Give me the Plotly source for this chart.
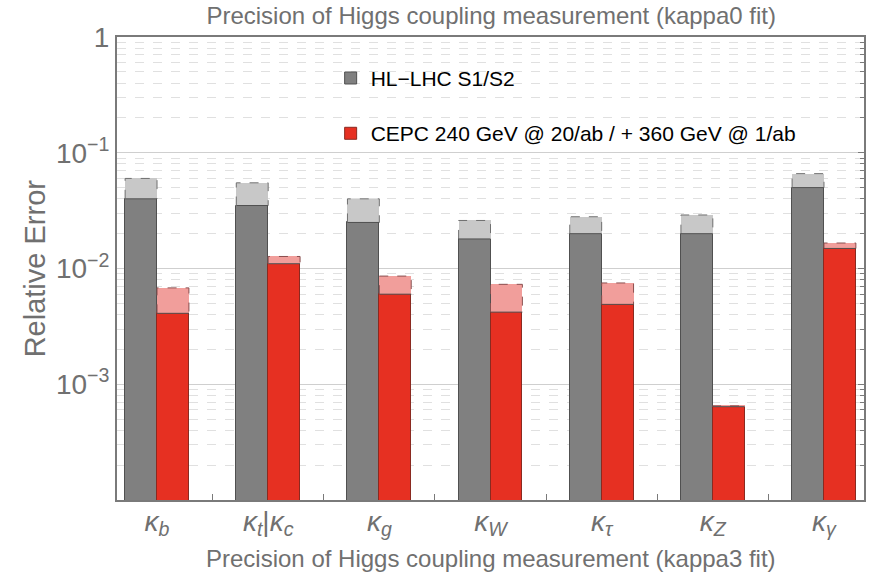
import plotly.graph_objects as go

categories = ["<i>κ<sub>b</sub></i>", "<i>κ<sub>t</sub></i>|<i>κ<sub>c</sub></i>", "<i>κ<sub>g</sub></i>",
              "<i>κ<sub>W</sub></i>", "<i>κ<sub>τ</sub></i>", "<i>κ<sub>Z</sub></i>", "<i>κ<sub>γ</sub></i>"]
hllhc_s2 = [0.040, 0.035, 0.025, 0.018, 0.020, 0.020, 0.050]
hllhc_s1 = [0.060, 0.055, 0.040, 0.026, 0.028, 0.029, 0.066]
cepc_360 = [0.0041, 0.011, 0.0060, 0.0042, 0.0049, 0.00064, 0.0149]
cepc_240 = [0.0068, 0.0127, 0.0086, 0.0073, 0.0075, 0.00065, 0.0166]
ytick_vals = [1, 0.1, 0.01, 0.001]
ytick_text = ["1", "10<sup>−1</sup>", "10<sup>−2</sup>", "10<sup>−3</sup>"]

W = 0.287
xs = list(range(len(categories)))
xg = [i - W / 2 for i in xs]
xr = [i + W / 2 for i in xs]

GRAY = "#808080"
GRAY_L = "#c8c8c8"
RED = "#e63022"
RED_L = "#f19e9b"
FONT = "Liberation Sans, Arial, Helvetica, sans-serif"
TXT = "#707070"

fig = go.Figure()

def outline(xc, lo, hi):
    X, Y = [], []
    for x, a, b in zip(xc, lo, hi):
        X += [x - W / 2, x - W / 2, x + W / 2, x + W / 2, None]
        Y += [a, b, b, a, None]
    return X, Y

# dark bars
fig.add_trace(go.Bar(x=xg, y=hllhc_s2, base=1e-6, width=W, name="HL−LHC S1/S2",
                     marker=dict(color=GRAY, line=dict(color="#505050", width=1)),
                     legendgroup="a"))
fig.add_trace(go.Bar(x=xr, y=cepc_360, base=1e-6, width=W,
                     name="CEPC 240 GeV @ 20/ab / + 360 GeV @ 1/ab",
                     marker=dict(color=RED, line=dict(color="#8a2a20", width=1)),
                     legendgroup="b"))
# light extension bars
fig.add_trace(go.Bar(x=xg, y=[b - a for a, b in zip(hllhc_s2, hllhc_s1)], base=hllhc_s2, width=W,
                     marker=dict(color=GRAY_L, line=dict(width=0)), showlegend=False))
fig.add_trace(go.Bar(x=xr, y=[b - a for a, b in zip(cepc_360, cepc_240)], base=cepc_360, width=W,
                     marker=dict(color=RED_L, line=dict(width=0)), showlegend=False))
# dashed outlines
X, Y = outline(xg, hllhc_s2, hllhc_s1)
fig.add_trace(go.Scatter(x=X, y=Y, mode="lines", line=dict(color="#707070", width=1, dash="dash"),
                         showlegend=False, hoverinfo="skip"))
X, Y = outline(xr, cepc_360, cepc_240)
fig.add_trace(go.Scatter(x=X, y=Y, mode="lines", line=dict(color="#8a5050", width=1, dash="dash"),
                         showlegend=False, hoverinfo="skip"))
# dark top edges
X, Y = [], []
for x, v in zip(xg, hllhc_s2):
    X += [x - W / 2, x + W / 2, None]; Y += [v, v, None]
for x, v in zip(xr, cepc_360):
    X += [x - W / 2, x + W / 2, None]; Y += [v, v, None]
fig.add_trace(go.Scatter(x=X, y=Y, mode="lines", line=dict(color="#505050", width=1),
                         showlegend=False, hoverinfo="skip"))
# helper trace for tick overlay axes
fig.add_trace(go.Scatter(x=[xs[0]], y=[ytick_vals[0]], xaxis="x2", yaxis="y2", mode="markers",
                         marker=dict(opacity=0), showlegend=False, hoverinfo="skip"))

fig.update_layout(
    width=872, height=574,
    margin=dict(l=117, r=6, t=37, b=74),
    plot_bgcolor="white", paper_bgcolor="white",
    barmode="overlay", bargap=0,
    font=dict(family=FONT, color=TXT),
    title=dict(text="Precision of Higgs coupling measurement (kappa0 fit)", x=0.5633, xanchor="center",
               y=1 - 16 / 574, yanchor="middle", font=dict(size=24, color=TXT, family=FONT)),
    legend=dict(x=0.286, y=0.955, xanchor="left", yanchor="top", bgcolor="rgba(0,0,0,0)",
                font=dict(size=21, color="black", family=FONT), traceorder="grouped",
                tracegroupgap=25),
    xaxis=dict(range=[-0.36, 6.36], tickvals=xs, ticktext=categories, ticks="", showgrid=False,
               showline=True, linecolor="#7a7a7a", linewidth=2, mirror=True, zeroline=False,
               ticklabelstandoff=-5,
               tickfont=dict(size=28, color=TXT, family=FONT)),
    xaxis2=dict(overlaying="x", matches="x", anchor="y", range=[-0.36, 6.36],
                tickvals=[i + 0.5 for i in xs[:-1]], ticks="inside", ticklen=6, tickcolor="#7a7a7a",
                showticklabels=False, showgrid=False, showline=False, zeroline=False),
    yaxis=dict(type="log", range=[-4, 0], tickvals=ytick_vals, ticktext=ytick_text, ticks="",
               showline=True, linecolor="#7a7a7a", linewidth=2, mirror=True,
               showgrid=True, gridcolor="#cfcfcf", gridwidth=1,
               minor=dict(dtick="D1", showgrid=True, gridcolor="#e0e0e0", griddash="dash", gridwidth=1),
               tickfont=dict(size=28, color=TXT, family=FONT)),
    yaxis2=dict(type="log", overlaying="y", matches="y", side="right", anchor="x", range=[-4, 0],
                tickvals=ytick_vals, ticks="inside", ticklen=6, tickcolor="#7a7a7a",
                showticklabels=False, showgrid=False, showline=False, zeroline=False,
                minor=dict(dtick="D1", ticks="inside", ticklen=4, tickcolor="#7a7a7a")),
    annotations=[
        dict(text="Relative Error", textangle=-90, x=-0.11, y=0.5, xref="paper", yref="paper",
             xanchor="center", yanchor="middle",
             showarrow=False, font=dict(size=29, color=TXT, family=FONT)),
        dict(text="Precision of Higgs coupling measurement (kappa3 fit)", x=0.5, y=-0.127,
             xref="paper", yref="paper", showarrow=False, yanchor="middle", xanchor="center",
             font=dict(size=24, color=TXT, family=FONT)),
        dict(text="1", x=0.0, y=-0.146, xref="paper", yref="paper", showarrow=False,
             xanchor="right", yanchor="top", font=dict(size=30, color=TXT, family=FONT)),
    ],
)

fig.write_html("out.html")
